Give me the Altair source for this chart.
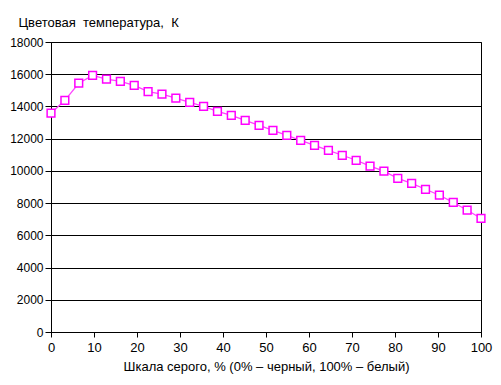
import altair as alt
import pandas as pd

steps = list(range(32))
gray_pct = [round(i * 100 / 31, 3) for i in steps]
temperature = [13580, 14380, 15440, 15930, 15690, 15560, 15310, 14920,
               14760, 14510, 14260, 14010, 13700, 13450, 13140, 12830,
               12520, 12210, 11900, 11590, 11280, 10970, 10660, 10290,
               9980, 9540, 9230, 8860, 8490, 8050, 7560, 7060]

df = pd.DataFrame({"gray": gray_pct, "temp": temperature})

FONT = "Liberation Sans"

x = alt.X("gray:Q",
          scale=alt.Scale(domain=[0, 100], nice=False),
          axis=alt.Axis(values=list(range(0, 101, 10)), grid=False,
                        title="Шкала серого, % (0% – черный, 100% – белый)",
                        titlePadding=6, labelPadding=4, tickSize=5,
                        labelFontSize=13, labelFlush=False))
y = alt.Y("temp:Q",
          scale=alt.Scale(domain=[0, 18000], nice=False),
          axis=alt.Axis(values=list(range(0, 18001, 2000)), grid=True,
                        title="Цветовая\u00a0 температура,\u00a0 К",
                        titleAngle=0, titleAlign="left", titleBaseline="alphabetic",
                        titleX=-33, titleY=-16, tickSize=6, labelPadding=2,
                        labelFontSize=12, format="d"))

line = alt.Chart(df).mark_line(color="#FF44FF", strokeWidth=1.3).encode(x=x, y=y)
pts = alt.Chart(df).mark_point(shape="square", filled=True, fill="white",
                               stroke="#FF00FF", strokeWidth=1.5, size=60,
                               opacity=1).encode(x=x, y=y)

chart = (line + pts).properties(
    width=430, height=290,
    autosize=alt.AutoSizeParams(type="none"),
    padding={"left": 43, "top": 34, "right": 12, "bottom": 45},
    background="white",
).configure_view(stroke="black", strokeWidth=1
).configure_axis(
    domainColor="black", tickColor="black", gridColor="black", gridWidth=1,
    labelFont=FONT, titleFont=FONT, titleFontSize=13,
    labelColor="black", titleColor="black", titleFontWeight="normal",
    domainWidth=1, tickWidth=1,
)

chart.save("out.html", embed_options={"renderer": "svg", "actions": False})
